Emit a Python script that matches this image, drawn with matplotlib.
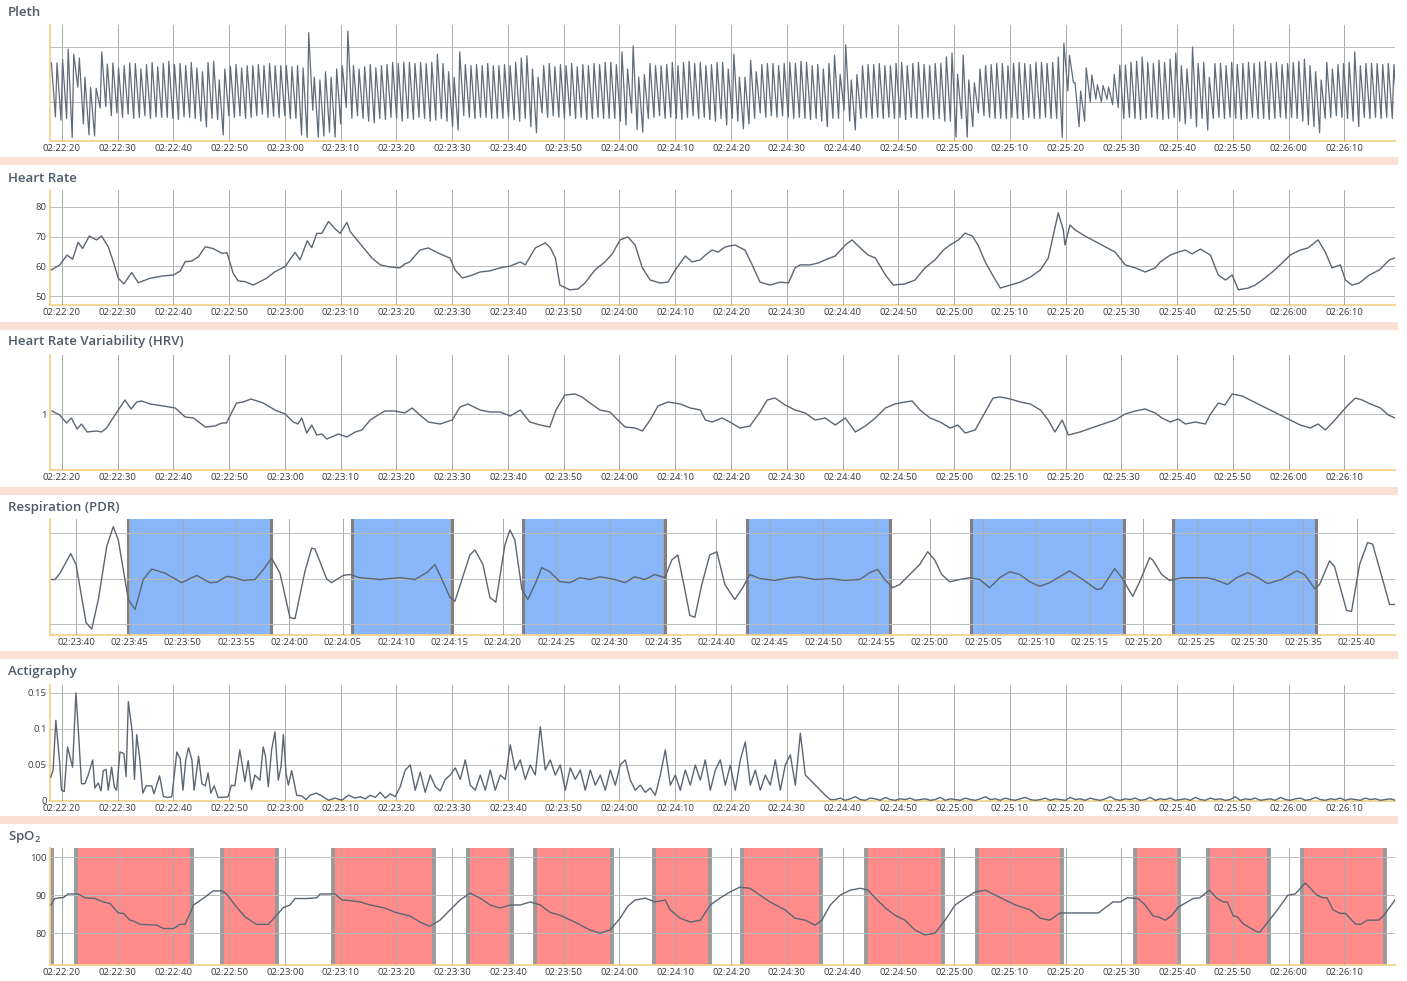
import numpy as np
import matplotlib.pyplot as plt
from matplotlib.ticker import MultipleLocator, FuncFormatter
from matplotlib.patches import Rectangle

plt.rcParams['font.family'] = ['Open Sans', 'DejaVu Sans']
plt.rcParams['mathtext.fontset'] = 'custom'
plt.rcParams['mathtext.rm'] = 'Open Sans'
plt.rcParams['mathtext.default'] = 'regular'

# clock origins (seconds of day)
T0 = 2 * 3600 + 22 * 60 + 20   # 02:22:20, main panels
R0 = 2 * 3600 + 23 * 60 + 40   # 02:23:40, respiration window

# ---------------- Pleth: per-beat peak / trough heights (arbitrary units) -------------
pleth_peaks = [
    71, 71, 77, 96, 87, 80, 45, 27, 25, 91,
    69, 71, 62, 66, 71, 70, 60, 68, 72, 64,
    70, 74, 68, 70, 66, 72, 62, 55, 72, 74,
    40, 60, 65, 68, 62, 66, 66, 68, 66, 70,
    66, 66, 66, 64, 66, 62, 126, 45, 40, 55,
    45, 60, 66, 129, 66, 60, 64, 68, 62, 66,
    68, 72, 70, 72, 72, 70, 72, 70, 72, 87,
    70, 55, 45, 91, 68, 66, 68, 66, 70, 66,
    66, 68, 66, 72, 80, 84, 60, 45, 66, 70,
    64, 68, 66, 70, 64, 68, 66, 70, 68, 72,
    72, 68, 91, 60, 102, 45, 50, 70, 66, 66,
    68, 72, 66, 72, 74, 70, 72, 66, 68, 72,
    72, 60, 87, 45, 45, 76, 55, 68, 70, 70,
    66, 70, 72, 70, 74, 72, 66, 68, 60, 70,
    85, 50, 104, 40, 50, 66, 68, 68, 70, 66,
    66, 70, 72, 66, 70, 72, 68, 66, 70, 70,
    82, 89, 50, 85, 40, 35, 60, 66, 68, 70,
    70, 66, 70, 72, 70, 68, 72, 72, 70, 72,
    82, 107, 85, 35, 20, 62, 49, 31, 30, 27,
    50, 67, 67, 72, 74, 82, 72, 70, 76, 72,
    78, 89, 66, 60, 100, 70, 72, 45, 70, 70,
    66, 72, 68, 70, 72, 70, 72, 74, 70, 72,
    68, 70, 72, 74, 78, 66, 55, 40, 72, 60,
    68, 70, 72, 91, 66, 70, 70, 70, 68, 70,
    68,
]
pleth_troughs = [
    -27, -33, -30, -65, 27, -40, -60, -62, -11, -9,
    -25, -20, -28, -22, -30, -28, -25, -30, -27, -28,
    -28, -30, -32, -27, -28, -30, -35, -45, -30, -32,
    -60, -25, -28, -25, -30, -28, -25, -22, -28, -26,
    -28, -25, -30, -30, -60, -65, -15, -64, -62, -55,
    -64, -40, -10, -30, -25, -30, -35, -38, -30, -32,
    -28, -30, -35, -30, -32, -28, -30, -35, -33, -30,
    -35, -45, -51, -25, -28, -30, -28, -28, -30, -30,
    -30, -28, -32, -35, -30, -45, -56, -20, -28, -25,
    -28, -30, -25, -30, -28, -32, -30, -28, -30, -30,
    -30, -35, -42, -20, -50, -55, -30, -28, -25, -30,
    -28, -30, -32, -28, -25, -30, -28, -32, -35, -30,
    -42, -30, -35, -49, -40, -30, -20, -28, -25, -28,
    -25, -28, -30, -28, -30, -32, -30, -35, -45, -30,
    -30, -15, -35, -51, -30, -28, -30, -28, -30, -28,
    -30, -28, -32, -28, -30, -30, -28, -32, -30, -35,
    -35, -64, -30, -64, -45, -20, -25, -28, -30, -30,
    -30, -28, -30, -32, -28, -30, -30, -28, -30, -30,
    -65, 20, 35, -45, -35, 0, 5, 0, 5, -5,
    -10, -30, -28, -30, -32, -30, -28, -30, -32, -30,
    -28, -35, -40, -30, -45, -30, -51, -30, -28, -30,
    -28, -30, -32, -30, -28, -30, -30, -32, -30, -28,
    -30, -28, -30, -35, -42, -45, -56, -30, -28, -25,
    -28, -30, -35, -45, -28, -30, -28, -30, -28, -30,
    -32,
]

# ---------------- Heart rate (s after 02:22:20, bpm) ----------------
hr_t = [-1.9, -0.4, 0.9, 1.9, 2.9, 3.7, 4.9, 6.2, 7.1, 8.3,
        9.2, 10.1, 11.1, 12.5, 13.7, 15.8, 18.2, 20.0, 21.2, 22.1,
        23.3, 24.5, 25.7, 27.1, 28.7, 29.6, 30.7, 31.6, 32.8, 34.3,
        36.7, 38.2, 40.0, 41.8, 42.7, 44.0, 44.8, 45.7, 46.6, 47.8,
        49.0, 49.9, 51.1, 51.7, 52.6, 54.4, 55.6, 57.1, 58.8, 60.6,
        61.5, 62.4, 64.2, 65.7, 67.8, 69.6, 70.5, 71.8, 73.2, 75.0,
        76.8, 78.6, 80.4, 82.2, 83.1, 84.9, 86.7, 87.6, 88.5, 89.3,
        91.1, 92.6, 93.8, 95.6, 97.4, 98.7, 100.1, 101.5, 102.8, 104.1,
        105.5, 107.3, 108.7, 110.0, 111.8, 113.0, 114.5, 115.4, 116.6, 117.7,
        118.9, 120.7, 122.5, 123.8, 125.2, 127.0, 128.8, 130.3, 131.5, 132.4,
        134.2, 135.6, 136.9, 138.7, 140.5, 141.7, 143.2, 144.6, 145.9, 147.7,
        149.1, 151.2, 153.0, 154.8, 156.6, 158.1, 159.3, 160.8, 162.0, 163.3,
        164.3, 165.6, 166.9, 168.3, 170.1, 171.9, 173.7, 175.5, 176.9, 178.2,
        178.7, 179.6, 179.9, 180.8, 181.7, 183.5, 186.2, 188.9, 190.7, 192.5,
        194.3, 196.1, 197.0, 198.8, 200.2, 201.5, 202.7, 204.2, 206.0, 207.4,
        208.7, 209.9, 211.0, 212.8, 214.0, 215.3, 217.1, 218.5, 220.3, 222.1,
        223.5, 225.3, 226.6, 227.8, 229.3, 230.2, 231.4, 232.7, 234.5, 236.3,
        238.1, 239.0]
hr_v = [58.8, 60.5, 63.8, 62.4, 68.1, 66.0, 70.2, 68.9, 70.2, 66.6,
        61.6, 56.0, 54.1, 57.9, 54.5, 56.0, 56.8, 57.1, 58.4, 61.6,
        61.8, 63.3, 66.6, 66.0, 64.4, 64.6, 57.7, 55.1, 54.9, 53.7,
        56.0, 58.2, 59.9, 64.7, 62.2, 68.6, 66.3, 71.1, 71.1, 75.1,
        72.6, 71.1, 74.8, 71.7, 69.6, 65.5, 62.8, 60.5, 59.8, 59.5,
        60.8, 61.5, 65.5, 66.2, 64.2, 62.8, 58.8, 56.1, 56.8, 58.1,
        58.5, 59.5, 60.1, 61.5, 60.5, 66.2, 67.9, 66.2, 62.8, 53.7,
        52.1, 52.4, 54.4, 58.8, 61.5, 64.2, 68.9, 69.9, 67.2, 59.5,
        55.4, 54.4, 54.7, 58.8, 63.5, 61.5, 62.2, 63.8, 65.5, 64.8,
        66.5, 67.2, 65.5, 60.5, 54.7, 53.7, 54.7, 54.4, 59.5, 60.5,
        60.5, 61.1, 62.2, 63.5, 67.2, 68.9, 66.2, 63.8, 62.8, 57.1,
        53.7, 54.1, 55.4, 59.5, 62.2, 65.5, 67.2, 68.9, 71.2, 70.2,
        67.2, 61.5, 57.1, 52.7, 53.7, 54.7, 56.4, 58.8, 62.8, 73.9,
        78.0, 72.3, 67.2, 73.9, 72.3, 70.2, 67.5, 64.8, 60.5, 59.5,
        58.1, 59.5, 61.5, 63.8, 64.8, 65.5, 64.2, 65.8, 63.8, 57.1,
        55.4, 57.1, 52.1, 52.7, 53.7, 55.4, 58.1, 60.5, 63.8, 65.5,
        66.2, 68.9, 64.8, 59.5, 60.5, 55.4, 53.7, 54.4, 57.1, 58.8,
        62.2, 62.8]

# ---------------- HRV ----------------
hrv_t = [-1.8, -0.4, 0.8, 1.7, 2.7, 3.5, 4.5, 6.2, 7.1, 8.0,
         9.5, 11.3, 12.4, 13.4, 14.3, 15.8, 18.2, 20.3, 22.1, 23.6,
         25.7, 27.4, 28.7, 29.5, 31.3, 32.5, 33.9, 36.1, 38.2, 40.0,
         41.5, 42.3, 43.0, 43.9, 44.8, 45.7, 46.6, 47.5, 49.6, 51.1,
         52.6, 53.8, 55.3, 56.7, 57.9, 59.7, 61.5, 62.8, 64.2, 65.7,
         67.8, 70.0, 71.4, 72.8, 75.0, 76.8, 78.6, 80.4, 82.2, 83.9,
         85.8, 87.5, 88.6, 90.2, 92.0, 93.3, 94.7, 96.5, 98.3, 99.7,
         101.0, 102.8, 104.1, 105.5, 106.9, 108.7, 110.9, 112.7, 114.5, 115.4,
         116.6, 118.4, 119.8, 121.6, 123.4, 125.2, 126.5, 127.9, 129.7, 131.5,
         133.3, 135.1, 136.9, 138.7, 140.5, 142.3, 144.1, 145.9, 147.7, 149.4,
         151.2, 152.5, 153.9, 155.7, 157.5, 159.3, 160.7, 162.0, 163.8, 165.6,
         167.0, 168.3, 170.1, 171.9, 173.7, 175.5, 176.9, 178.1, 179.4, 180.5,
         182.6, 186.2, 188.9, 190.7, 192.5, 194.3, 196.1, 197.3, 198.8, 200.2,
         201.5, 203.3, 205.1, 205.9, 207.4, 208.6, 209.9, 211.7, 213.1, 214.9,
         216.7, 218.5, 220.3, 222.1, 223.9, 225.3, 226.6, 228.0, 229.4, 230.7,
         232.0, 233.2, 234.7, 236.5, 237.9, 239.1]
hrv_v = [1.03, 0.99, 0.91, 0.96, 0.85, 0.90, 0.82, 0.83, 0.82, 0.86,
         0.99, 1.14, 1.05, 1.12, 1.13, 1.10, 1.08, 1.06, 0.97, 0.96,
         0.87, 0.88, 0.91, 0.91, 1.11, 1.12, 1.15, 1.11, 1.04, 1.00,
         0.92, 0.90, 0.96, 0.81, 0.89, 0.79, 0.80, 0.75, 0.80, 0.77,
         0.82, 0.84, 0.94, 0.99, 1.03, 1.03, 1.01, 1.06, 0.99, 0.92,
         0.90, 0.94, 1.07, 1.10, 1.04, 1.02, 1.02, 0.98, 1.04, 0.92,
         0.89, 0.87, 1.04, 1.19, 1.20, 1.17, 1.11, 1.04, 1.02, 0.94,
         0.87, 0.86, 0.83, 0.94, 1.08, 1.12, 1.10, 1.06, 1.04, 0.94,
         0.92, 0.96, 0.92, 0.86, 0.88, 1.02, 1.14, 1.16, 1.09, 1.04,
         1.01, 0.94, 0.96, 0.89, 0.96, 0.82, 0.88, 0.96, 1.06, 1.10,
         1.12, 1.13, 1.04, 0.96, 0.92, 0.86, 0.89, 0.81, 0.84, 1.02,
         1.16, 1.17, 1.15, 1.12, 1.10, 1.04, 0.94, 0.82, 0.94, 0.79,
         0.82, 0.89, 0.94, 1.00, 1.03, 1.05, 1.01, 0.96, 0.92, 0.95,
         0.90, 0.92, 0.90, 0.99, 1.11, 1.09, 1.20, 1.18, 1.14, 1.09,
         1.04, 0.99, 0.94, 0.89, 0.86, 0.90, 0.84, 0.92, 1.01, 1.09,
         1.16, 1.14, 1.10, 1.06, 0.99, 0.96]

# ---------------- Respiration (s after 02:23:40) ----------------
resp_t = [-2.28, -1.97, -1.50, -0.50, 0.00, 0.94, 1.47, 2.09, 2.88, 3.49,
          3.96, 4.90, 5.53, 6.30, 7.09, 8.34, 9.90, 10.52, 11.31, 12.55,
          13.18, 14.12, 14.74, 15.67, 16.77, 17.55, 18.33, 19.11, 20.05, 20.52,
          21.45, 22.08, 22.39, 23.49, 23.95, 25.04, 25.67, 26.60, 28.48, 30.35,
          31.76, 32.97, 33.63, 34.29, 35.03, 35.50, 36.16, 36.91, 37.38, 38.13,
          38.78, 39.34, 40.19, 40.66, 41.12, 41.78, 42.34, 43.00, 43.65, 44.40,
          45.34, 46.28, 47.21, 48.15, 49.09, 50.49, 51.43, 52.37, 53.30, 54.24,
          55.18, 55.83, 56.39, 57.05, 57.52, 57.99, 58.64, 59.39, 60.05, 60.80,
          61.73, 62.48, 63.14, 64.08, 65.48, 66.89, 67.82, 69.23, 70.63, 72.04,
          73.44, 74.38, 75.13, 75.78, 76.53, 77.19, 78.13, 79.06, 79.81, 80.47,
          81.12, 81.87, 82.81, 83.75, 84.68, 85.62, 86.56, 87.49, 88.43, 89.37,
          90.30, 91.24, 93.11, 94.33, 95.64, 96.11, 97.33, 97.99, 99.02, 99.67,
          100.61, 100.89, 101.73, 102.48, 103.70, 105.95, 106.70, 107.92, 108.76, 109.79,
          110.63, 111.66, 112.97, 114.38, 115.13, 116.07, 116.53, 117.47, 117.94, 119.06,
          119.53, 120.28, 121.03, 121.50, 122.44, 123.09, 123.56]
resp_v = [-0.02, -0.02, 0.12, 0.55, 0.31, -0.97, -1.11, -0.46, 0.71, 1.14,
          0.85, -0.46, -0.68, -0.02, 0.21, 0.12, -0.09, -0.02, 0.07, -0.09,
          -0.08, 0.05, 0.03, -0.04, -0.02, 0.20, 0.45, 0.12, -0.86, -0.88,
          0.16, 0.67, 0.65, -0.01, -0.09, 0.07, 0.09, 0.02, -0.02, 0.02,
          -0.02, 0.15, 0.31, -0.02, -0.41, -0.50, -0.02, 0.52, 0.63, 0.31,
          -0.41, -0.52, 0.74, 1.07, 0.85, -0.24, -0.46, -0.13, 0.24, 0.15,
          -0.07, -0.09, 0.02, -0.02, 0.04, -0.02, -0.09, 0.04, -0.02, 0.09,
          0.02, 0.41, 0.52, -0.24, -0.81, -0.85, -0.13, 0.52, 0.59, -0.13,
          -0.46, -0.20, 0.09, 0.00, -0.04, 0.02, 0.04, -0.02, 0.00, -0.04,
          -0.02, 0.13, 0.20, -0.02, -0.20, -0.13, 0.09, 0.31, 0.59, 0.41,
          0.09, -0.07, -0.02, 0.02, -0.02, -0.20, 0.02, 0.15, 0.09, -0.07,
          -0.17, -0.09, 0.17, -0.02, -0.24, -0.22, 0.22, 0.02, -0.39, -0.07,
          0.46, 0.41, 0.09, -0.04, 0.02, 0.02, -0.02, -0.13, 0.02, 0.13,
          0.04, -0.11, -0.02, 0.17, 0.09, -0.22, -0.13, 0.39, 0.26, -0.70,
          -0.72, 0.31, 0.79, 0.76, -0.02, -0.57, -0.57]
resp_events = [(4.87, 18.27), (25.85, 35.22), (41.87, 55.18),
               (62.86, 76.25), (83.84, 98.17), (102.79, 116.22)]

# ---------------- Actigraphy (thousandths of unit) ----------------
act_t_a = [-2.0, -1.6, -1.1, -0.4, -0.1, 0.4, 1.0, 1.9, 2.5, 3.0,
           3.5, 4.1, 4.7, 5.5, 5.9, 6.5, 7.0, 7.4, 7.9, 8.3,
           8.9, 9.4, 9.8, 10.4, 11.1, 11.5, 11.9, 12.6, 13.0, 13.4,
           13.9, 14.5, 15.1, 16.1, 16.5, 17.5, 18.2, 19.0, 19.7, 20.6,
           21.2, 21.7, 22.2, 22.7, 23.3, 23.7, 24.5, 25.1, 25.7, 26.2,
           26.7, 27.3, 28.0, 28.9, 29.8, 30.4, 31.0, 31.9, 32.8, 33.4,
           34.0, 34.6, 35.5, 36.1, 36.5, 37.0, 37.6, 38.2, 38.8, 39.3,
           39.7, 40.2, 40.6, 41.2, 42.1, 43.0, 43.8, 44.5, 45.6, 46.6,
           47.8, 49.0, 50.2, 51.4]
act_v_a = [33, 43, 112, 52, 15, 13, 75, 47, 150, 90,
           24, 24, 36, 57, 18, 25, 14, 42, 44, 15,
           47, 19, 15, 68, 66, 34, 138, 96, 30, 92,
           62, 11, 21, 21, 10, 35, 6, 5, 6, 68,
           59, 15, 57, 74, 57, 15, 62, 24, 21, 39,
           11, 21, 5, 5, 6, 22, 21, 71, 27, 56,
           16, 36, 29, 75, 62, 20, 71, 96, 29, 48,
           92, 38, 22, 42, 8, 7, 2, 8, 11, 7,
           1, 4, 1, 8]
# from 52.6 s on, sampled every 0.897 s
act_v_b = [4, 6, 3, 8, 5, 12, 4, 10, 6, 20,
           43, 50, 15, 40, 12, 36, 20, 14, 30, 36,
           46, 30, 57, 22, 15, 36, 15, 43, 15, 36,
           30, 78, 43, 57, 30, 50, 36, 103, 43, 57,
           36, 50, 15, 46, 30, 43, 15, 43, 22, 36,
           15, 43, 22, 50, 57, 29, 15, 22, 12, 18,
           8, 36, 71, 22, 36, 15, 43, 22, 50, 29,
           57, 15, 43, 57, 22, 50, 15, 57, 82, 22,
           43, 15, 36, 22, 57, 15, 50, 64, 22, 94,
           36, 29, 22, 15, 8, 2]
act_v_c = [2, 4, 1, 3, 6, 2, 1, 4, 3, 1,
           5, 2, 1, 3, 2, 4, 1, 2, 3, 1,
           2, 5, 1, 3, 2, 1, 4, 2, 1, 3,
           6, 2, 3, 1, 4, 2, 1, 3, 5, 2,
           1, 2, 4, 1, 3, 2, 1, 5, 2, 3,
           1, 4, 2, 1, 3, 6, 2, 1, 3, 2,
           4, 1, 2, 5, 1, 3, 2, 4, 1, 2,
           3, 1, 5, 2, 1, 4, 2, 3, 1, 2,
           6, 1, 3, 2, 4, 1, 2, 3, 1, 5,
           2, 1, 3, 4, 1, 2, 5, 2, 1, 3,
           2, 4, 1, 3, 2, 1, 4, 2, 3, 1,
           2, 3, 1]

# ---------------- SpO2 ----------------
spo2_t = [-2.0, -1.3, -0.4, 0.2, 1.1, 2.9, 4.1, 5.9, 7.4, 8.6,
          10.1, 11.0, 12.2, 12.8, 14.0, 17.0, 18.2, 20.0, 21.2, 22.1,
          23.6, 25.3, 27.1, 28.7, 29.5, 31.3, 32.8, 34.9, 37.0, 38.5,
          39.7, 40.9, 41.8, 43.9, 45.7, 46.3, 49.0, 50.2, 50.8, 53.5,
          55.3, 57.9, 59.7, 62.4, 64.2, 66.0, 67.8, 69.6, 71.4, 73.2,
          75.0, 76.8, 78.6, 80.4, 82.2, 84.0, 85.8, 87.5, 89.3, 92.0,
          94.7, 96.5, 98.3, 100.1, 101.5, 102.8, 104.6, 106.4, 108.2, 109.1,
          110.9, 112.7, 114.5, 116.3, 118.0, 119.8, 121.6, 123.4, 125.2, 127.0,
          129.7, 131.5, 133.3, 135.1, 136.3, 137.8, 139.6, 141.4, 143.2, 144.6,
          145.9, 147.7, 149.4, 151.2, 153.0, 154.8, 156.6, 158.4, 160.2, 162.0,
          163.8, 165.6, 167.4, 169.2, 171.0, 173.7, 175.5, 177.2, 179.0, 185.9,
          188.5, 189.8, 191.1, 193.0, 194.3, 195.7, 196.6, 197.9, 199.1, 200.2,
          202.9, 204.1, 205.8, 207.2, 208.3, 209.0, 210.1, 210.8, 211.9, 214.4,
          214.9, 218.0, 219.9, 221.2, 223.0, 225.1, 226.2, 226.9, 228.0, 229.2,
          230.2, 232.0, 232.9, 234.2, 236.2, 237.1, 239.3]
spo2_v = [87.4, 89.1, 89.3, 89.3, 90.3, 90.3, 89.3, 89.1, 88.2, 87.8,
          85.3, 85.2, 83.4, 83.2, 82.3, 82.1, 81.2, 81.2, 82.3, 82.3,
          87.4, 89.1, 91.1, 91.1, 90.3, 86.9, 84.3, 82.3, 82.3, 84.7,
          86.7, 87.4, 89.1, 89.1, 89.3, 90.3, 90.3, 88.7, 88.7, 88.2,
          87.4, 86.6, 85.5, 84.5, 82.9, 81.8, 83.4, 86.1, 88.7, 90.5,
          89.2, 87.4, 86.6, 87.4, 87.4, 88.2, 87.4, 85.5, 84.7, 82.9,
          80.8, 80.0, 80.8, 83.9, 87.1, 88.7, 89.2, 88.2, 88.7, 86.1,
          83.9, 82.9, 83.4, 87.4, 89.2, 90.8, 92.1, 91.8, 90.0, 88.2,
          86.1, 83.9, 83.4, 82.1, 83.4, 87.4, 90.0, 91.3, 91.8, 91.3,
          89.2, 86.6, 84.7, 83.4, 80.8, 79.5, 80.0, 83.4, 87.4, 89.2,
          90.8, 91.3, 90.0, 88.7, 87.4, 86.1, 83.9, 83.4, 85.3, 85.3,
          88.2, 88.2, 89.3, 89.1, 87.4, 84.5, 84.3, 83.4, 84.7, 86.8,
          89.1, 89.3, 91.3, 89.1, 88.2, 88.2, 84.5, 84.3, 82.4, 80.3,
          80.3, 86.1, 90.0, 90.3, 93.2, 90.0, 89.3, 89.3, 86.1, 85.2,
          85.2, 82.4, 82.3, 83.4, 83.4, 84.7, 89.1]
desat_events = [(-3.0, -1.8), (2.5, 23.4), (28.7, 38.5), (48.7, 66.7),
                (72.8, 80.7), (84.9, 98.7), (106.2, 116.2), (122.0, 136.2),
                (144.2, 158.1), (164.2, 179.3), (192.5, 200.4),
                (205.5, 216.5), (222.5, 237.3)]

# ---------------- figure ----------------
W, H = 1407, 981
fig = plt.figure(figsize=(W / 100, H / 100), dpi=100)
fig.patch.set_facecolor('white')

LINE = '#5b6672'
TITLE = '#4c5a69'
GRID = '#bdbdbd'
SPINE = '#f5d38c'


def clock(origin):
    def f(v, pos):
        s = int(round(origin + v))
        return f"{s // 3600:02d}:{s % 3600 // 60:02d}:{s % 60:02d}"
    return FuncFormatter(f)


def make_axes(top, bottom, title, title_y):
    ax = fig.add_axes([50 / W, 1 - bottom / H, 1345 / W, (bottom - top) / H])
    for s in ['top', 'right']:
        ax.spines[s].set_visible(False)
    for s in ['left', 'bottom']:
        ax.spines[s].set_color(SPINE)
        ax.spines[s].set_linewidth(1.3)
    ax.tick_params(length=0, labelsize=6.8, colors='#3a3a3a', pad=2.5)
    ax.grid(True, axis='y', color=GRID, lw=0.7)
    ax.grid(True, axis='x', color='#a9a9a9', lw=0.7)
    ax.set_axisbelow(False)
    fig.text(8 / W, 1 - title_y / H, title, fontsize=9.5, fontweight='semibold',
             color=TITLE, va='center', ha='left')
    return ax


def time_axis(ax, origin, xlim, step):
    ax.set_xlim(xlim)
    ax.xaxis.set_major_locator(MultipleLocator(step))
    ax.xaxis.set_major_formatter(clock(origin))


main_xlim = (-2.15, 239.1)

# separator bands
for top, bottom in [(157, 165), (322, 330), (487, 495), (651, 659), (816, 824)]:
    fig.add_artist(Rectangle((0, 1 - bottom / H), 1398 / W, (bottom - top) / H,
                             transform=fig.transFigure, facecolor='#fbe1d5',
                             edgecolor='none', zorder=0))

# Pleth
ax = make_axes(25, 141, 'Pleth', 13)
n = len(pleth_peaks)
beat_t = np.linspace(-1.9, 238.9, n)
dt = beat_t[1] - beat_t[0]
px = np.column_stack([beat_t, beat_t + 0.72 * dt]).ravel()
py = np.column_stack([pleth_peaks, pleth_troughs]).ravel()
ax.plot(px, py, color='#5f6c7a', lw=0.9, zorder=3)
time_axis(ax, T0, main_xlim, 10)
ax.set_ylim(-71, 140)
ax.set_yticks([0, 100])
ax.set_yticklabels([])

# Heart rate
ax = make_axes(190, 305, 'Heart Rate', 178)
ax.plot(hr_t, hr_v, color=LINE, lw=1.0, zorder=3)
time_axis(ax, T0, main_xlim, 10)
ax.set_ylim(47, 85.7)
ax.set_yticks([50, 60, 70, 80])

# HRV
ax = make_axes(355, 470, 'Heart Rate Variability (HRV)', 342)
ax.plot(hrv_t, hrv_v, color=LINE, lw=1.0, zorder=3)
time_axis(ax, T0, main_xlim, 10)
ax.set_ylim(0.44, 1.59)
ax.set_yticks([1])
ax.set_yticklabels(['1'])

# Respiration
ax = make_axes(519, 635, 'Respiration (PDR)', 507)
for a, b in resp_events:
    ax.axvspan(a, b, facecolor='#88b6f8', edgecolor='none', zorder=1)
    ax.axvline(a, color='#808080', lw=2.2, zorder=1.5)
    ax.axvline(b, color='#808080', lw=2.2, zorder=1.5)
ax.plot(resp_t, resp_v, color=LINE, lw=1.0, zorder=3)
time_axis(ax, R0, (-2.44, 123.6), 5)
ax.set_ylim(-1.24, 1.31)
ax.set_yticks([-1, 0, 1])
ax.set_yticklabels([])

# Actigraphy
ax = make_axes(685, 801, 'Actigraphy', 672)
t_b = 52.6 + 0.897 * np.arange(len(act_v_b))
t_c = 138.7 + 0.897 * np.arange(len(act_v_c))
act_t = np.concatenate([act_t_a, t_b, t_c])
act_v = np.concatenate([act_v_a, act_v_b, act_v_c]) / 1000.0
ax.plot(act_t, act_v, color=LINE, lw=1.0, zorder=3)
time_axis(ax, T0, main_xlim, 10)
ax.set_ylim(0, 0.161)
ax.set_yticks([0, 0.05, 0.1, 0.15])
ax.set_yticklabels(['0', '0.05', '0.1', '0.15'])

# SpO2
ax = make_axes(848, 965, 'SpO$_2$', 837)
for a, b in desat_events:
    ax.axvspan(a, b, facecolor='#ff8b8b', edgecolor='none', zorder=1)
    ax.axvline(a, color='#9a9a9a', lw=2.8, zorder=1.5)
    ax.axvline(b, color='#9a9a9a', lw=2.8, zorder=1.5)
ax.plot(spo2_t, spo2_v, color=LINE, lw=1.0, zorder=3)
time_axis(ax, T0, main_xlim, 10)
ax.set_ylim(71.6, 102.4)
ax.set_yticks([80, 90, 100])

fig.savefig('out.png', dpi=100)
